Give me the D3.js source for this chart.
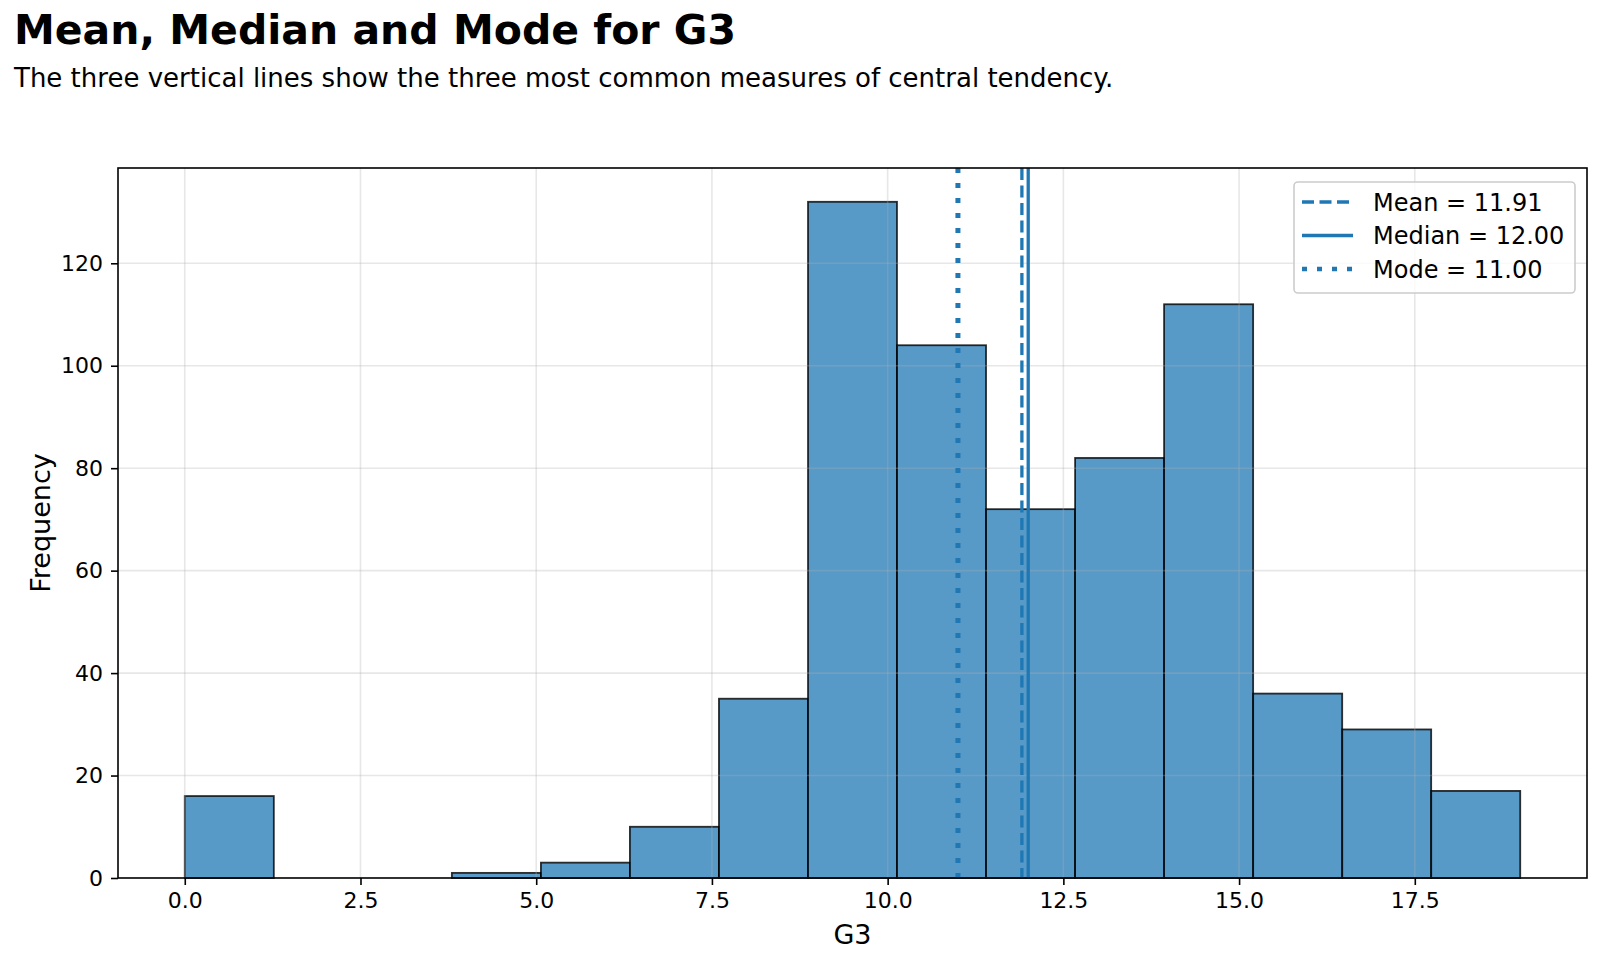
<!DOCTYPE html>
<html>
<head>
<meta charset="utf-8">
<script src="https://cdn.jsdelivr.net/npm/d3@7"></script>
<style>
  html, body { margin: 0; padding: 0; background: #fff; }
  svg { display: block; }
  text { font-family: "DejaVu Sans", sans-serif; fill: #000; }
</style>
</head>
<body>
<svg id="chart" width="1600" height="963"></svg>
<script>
// ---- data ----
const binEdges = [0, 1.267, 2.533, 3.8, 5.067, 6.333, 7.6, 8.867, 10.133, 11.4, 12.667, 13.933, 15.2, 16.467, 17.733, 19];
const binCounts = [16, 0, 0, 1, 3, 10, 35, 132, 104, 72, 82, 112, 36, 29, 17];
const xTicks = [0, 2.5, 5, 7.5, 10, 12.5, 15, 17.5];
const yTicks = [0, 20, 40, 60, 80, 100, 120];
const statNames = ["Mean", "Median", "Mode"];
const statValues = [11.91, 12.00, 11.00];
const titleText = "Mean, Median and Mode for G3";
const subtitleText = "The three vertical lines show the three most common measures of central tendency.";
const xLabel = "G3";
const yLabel = "Frequency";

// ---- layout ----
const svg = d3.select("#chart");
const plot = { left: 118, top: 168, right: 1587, bottom: 878 };
const blue = "#1f77b4";

const x = d3.scaleLinear().domain([-0.95, 19.95]).range([plot.left, plot.right]);
const y = d3.scaleLinear().domain([0, 138.6]).range([plot.bottom, plot.top]);

const bins = binCounts.map((c, i) => ({ x0: binEdges[i], x1: binEdges[i + 1], count: c }));

// clip
svg.append("defs").append("clipPath").attr("id", "clip")
  .append("rect").attr("x", plot.left).attr("y", plot.top)
  .attr("width", plot.right - plot.left).attr("height", plot.bottom - plot.top);

// bars
svg.append("g").selectAll("rect").data(bins.filter(b => b.count > 0)).join("rect")
  .attr("x", d => x(d.x0))
  .attr("y", d => y(d.count))
  .attr("width", d => x(d.x1) - x(d.x0))
  .attr("height", d => y(0) - y(d.count))
  .attr("fill", blue)
  .attr("fill-opacity", 0.75)
  .attr("stroke", "#000")
  .attr("stroke-opacity", 0.8)
  .attr("stroke-width", 1.8);

// grid (on top of bars, translucent)
const grid = svg.append("g").attr("clip-path", "url(#clip)");
grid.selectAll("line.gx").data(xTicks).join("line")
  .attr("x1", d => x(d)).attr("x2", d => x(d))
  .attr("y1", plot.top).attr("y2", plot.bottom)
  .attr("stroke", "#b0b0b0").attr("stroke-opacity", 0.3).attr("stroke-width", 1.6);
grid.selectAll("line.gy").data(yTicks).join("line")
  .attr("x1", plot.left).attr("x2", plot.right)
  .attr("y1", d => y(d)).attr("y2", d => y(d))
  .attr("stroke", "#b0b0b0").attr("stroke-opacity", 0.3).attr("stroke-width", 1.6);

// stat lines
const styles = [
  { width: 3.3, dash: "12,5.5" },
  { width: 3.3, dash: null },
  { width: 5, dash: "5,10" }
];
const stats = statNames.map((n, i) => ({ name: n, value: statValues[i], style: styles[i] }));
svg.append("g").attr("clip-path", "url(#clip)")
  .selectAll("line").data(stats).join("line")
  .attr("x1", d => x(d.value)).attr("x2", d => x(d.value))
  .attr("y1", plot.top).attr("y2", plot.bottom)
  .attr("stroke", blue)
  .attr("stroke-width", d => d.style.width)
  .attr("stroke-dasharray", d => d.style.dash);

// axes
const xAxis = d3.axisBottom(x).tickValues(xTicks).tickFormat(d3.format(".1f")).tickSize(7).tickPadding(7);
const yAxis = d3.axisLeft(y).tickValues(yTicks).tickFormat(d3.format("d")).tickSize(7).tickPadding(8);

const gx = svg.append("g").attr("transform", `translate(0,${plot.bottom})`).call(xAxis);
const gy = svg.append("g").attr("transform", `translate(${plot.left},0)`).call(yAxis);
[gx, gy].forEach(g => {
  g.select(".domain").remove();
  g.selectAll(".tick line").attr("stroke", "#000").attr("stroke-width", 1.6);
  g.selectAll(".tick text").attr("font-size", 22).attr("font-family", "DejaVu Sans").attr("fill", "#000");
});

// frame
svg.append("rect")
  .attr("x", plot.left).attr("y", plot.top)
  .attr("width", plot.right - plot.left).attr("height", plot.bottom - plot.top)
  .attr("fill", "none").attr("stroke", "#000").attr("stroke-width", 1.6);

// axis labels
svg.append("text").attr("x", (plot.left + plot.right) / 2).attr("y", 944)
  .attr("text-anchor", "middle").attr("font-size", 27).text(xLabel);
svg.append("text")
  .attr("transform", `translate(50,${(plot.top + plot.bottom) / 2}) rotate(-90)`)
  .attr("text-anchor", "middle").attr("font-size", 27).text(yLabel);

// title & subtitle
svg.append("text").attr("x", 14).attr("y", 44).attr("font-size", 41).attr("font-weight", "bold").text(titleText);
svg.append("text").attr("x", 14).attr("y", 87).attr("font-size", 26).text(subtitleText);

// legend
const lg = svg.append("g");
lg.append("rect").attr("x", 1294).attr("y", 182).attr("width", 281).attr("height", 111)
  .attr("rx", 4).attr("fill", "#fff").attr("fill-opacity", 0.8)
  .attr("stroke", "#cccccc").attr("stroke-width", 1.6);
const rowY = d3.scalePoint().domain(statNames).range([202, 269]);
const items = lg.selectAll("g.item").data(stats).join("g")
  .attr("transform", d => `translate(0,${rowY(d.name)})`);
items.append("line").attr("x1", 1302).attr("x2", 1353).attr("y1", 0).attr("y2", 0)
  .attr("stroke", blue)
  .attr("stroke-width", d => d.style.width === 5 ? 4.6 : 3.3)
  .attr("stroke-dasharray", d => d.style.dash);
items.append("text").attr("x", 1373).attr("y", 0).attr("dy", "0.36em")
  .attr("font-size", 24)
  .text(d => `${d.name} = ${d.value.toFixed(2)}`);
</script>
</body>
</html>
